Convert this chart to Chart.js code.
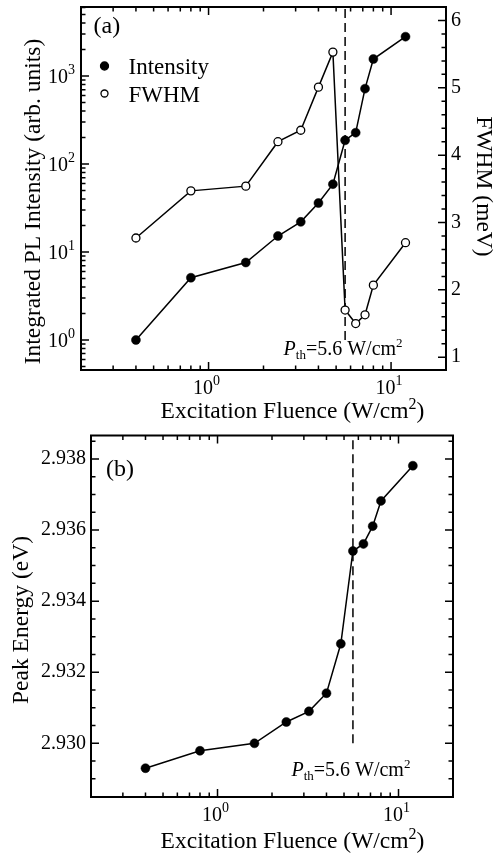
<!DOCTYPE html>
<html lang="en">
<head>
<meta charset="UTF-8">
<title>Excitation fluence dependence</title>
<script src="https://cdn.jsdelivr.net/npm/chart.js"></script>
<style>
  html, body { margin: 0; padding: 0; background: #fff; }
  #wrap { position: relative; width: 496px; height: 855px; }
  canvas { position: absolute; left: 0; }
  #chartA { top: 0; }
  #chartB { top: 428px; }
</style>
</head>
<body>
<div id="wrap">
  <canvas id="chartA" width="496" height="428"></canvas>
  <canvas id="chartB" width="496" height="427"></canvas>
</div>
<script>
// excitation fluence, W/cm^2
const fluence = [0.4, 0.8, 1.6, 2.4, 3.2, 4.0, 4.8, 5.6, 6.4, 7.2, 8.0, 12];
// panel (a)
const intensity = [1.0, 5.1, 7.6, 15.2, 22, 36, 59, 186, 227, 718, 1560, 2800];
const fwhm = [2.77, 3.47, 3.54, 4.20, 4.37, 5.01, 5.53, 1.70, 1.50, 1.63, 2.07, 2.70];
// panel (b)
const peakEnergy = [2.9293, 2.92979, 2.9300, 2.9306, 2.9309, 2.93141, 2.9328, 2.93541, 2.93561, 2.93611, 2.93682, 2.93781];
// lasing threshold
const threshold = 5.6;

// tick labels
const fluenceTicks = [1, 10];
const intensityTicks = [1, 10, 100, 1000];
const fwhmTicks = [1, 2, 3, 4, 5, 6];
const energyTicks = [2.930, 2.932, 2.934, 2.936, 2.938];

const SERIF = '"Liberation Serif", "Times New Roman", serif';

const T = '23.5px ' + SERIF;
const Tsup = '16px ' + SERIF;
const fluenceTitle = [
    {t: 'Excitation Fluence (W/cm', f: T},
    {t: '2', f: Tsup, dy: -9},
    {t: ')', f: T}
];

// 10^n label as text runs
const pow10Runs = v => [
    {t: '10', f: '20px ' + SERIF},
    {t: String(Math.round(Math.log10(v))), f: '14px ' + SERIF, dy: -9}
];

function tickValues(s, spec) {
    const out = [];
    if (spec.log) {
        for (let e = Math.floor(Math.log10(s.min)); e <= Math.ceil(Math.log10(s.max)); e++) {
            for (let m = 1; m <= 9; m++) {
                const v = m * Math.pow(10, e);
                if (v > s.min && v < s.max) out.push([v, m === 1]);
            }
        }
    } else {
        for (let i = Math.ceil(s.min / spec.minor); i * spec.minor < s.max; i++) {
            out.push([i * spec.minor, i % spec.every === 0]);
        }
    }
    return out;
}

// text in runs of different fonts (sub/superscripts); align: 'left' | 'center' | 'right'
function drawRuns(ctx, runs, x, y, align) {
    let w = 0;
    runs.forEach(r => { ctx.font = r.f; w += ctx.measureText(r.t).width; });
    let cx = align === 'center' ? x - w / 2 : align === 'right' ? x - w : x;
    runs.forEach(r => {
        ctx.font = r.f;
        ctx.fillText(r.t, cx, y + (r.dy || 0));
        cx += ctx.measureText(r.t).width;
    });
}

// fixed axis sizes, no label overhang padding
const fixW = w => s => { s.width = w; s.paddingTop = 0; s.paddingBottom = 0; };
const fixH = h => s => { s.height = h; s.paddingLeft = 0; s.paddingRight = 0; };

// frame, inward ticks, log tick labels, dashed threshold line, titles, panel letter, legend, threshold label
const decor = {
    id: 'decor',
    beforeDatasetsDraw(chart, args, o) {
        const {ctx, chartArea: a} = chart;
        const px = chart.scales.x.getPixelForValue(threshold);
        const y0 = chart.scales[o.dash.scale].getPixelForValue(o.dash.from);
        ctx.save();
        ctx.strokeStyle = '#000';
        ctx.lineWidth = 1.5;
        ctx.setLineDash([9, 5]);
        ctx.beginPath();
        ctx.moveTo(px, y0);
        ctx.lineTo(px, a.top);
        ctx.stroke();
        ctx.restore();
    },
    afterDraw(chart, args, o) {
        const {ctx, chartArea: a} = chart;
        ctx.save();
        ctx.strokeStyle = '#000';
        ctx.fillStyle = '#000';
        ctx.lineWidth = 1.5;
        ctx.beginPath();
        o.ticks.forEach(spec => {
            const s = chart.scales[spec.scale];
            tickValues(s, spec).forEach(([v, major]) => {
                const p = s.getPixelForValue(v);
                const len = major ? 8 : 4.5;
                spec.sides.forEach(side => {
                    if (side === 'bottom') { ctx.moveTo(p, a.bottom); ctx.lineTo(p, a.bottom - len); }
                    if (side === 'top') { ctx.moveTo(p, a.top); ctx.lineTo(p, a.top + len); }
                    if (side === 'left') { ctx.moveTo(a.left, p); ctx.lineTo(a.left + len, p); }
                    if (side === 'right') { ctx.moveTo(a.right, p); ctx.lineTo(a.right - len, p); }
                });
            });
        });
        ctx.stroke();
        ctx.lineWidth = 2;
        ctx.strokeRect(a.left, a.top, a.right - a.left, a.bottom - a.top);

        ctx.textBaseline = 'alphabetic';
        ctx.textAlign = 'left';

        // 10^n tick labels of the log axes
        o.logLabels.forEach(ll => {
            const s = chart.scales[ll.scale];
            ll.values.forEach(v => {
                const p = s.getPixelForValue(v);
                if (s.isHorizontal()) drawRuns(ctx, pow10Runs(v), p - 2, a.bottom + 24, 'center');
                else drawRuns(ctx, pow10Runs(v), a.left - 6, p + 7, 'right');
            });
        });

        // axis titles
        o.titles.forEach(tt => {
            ctx.save();
            ctx.translate(tt.x, tt.y);
            ctx.rotate(tt.rot * Math.PI / 180);
            drawRuns(ctx, tt.runs, 0, 0, 'center');
            ctx.restore();
        });

        // panel letter
        ctx.font = '24px ' + SERIF;
        ctx.fillText(o.letter.text, a.left + o.letter.dx, a.top + o.letter.dy);

        // legend
        if (o.legend) {
            chart.data.datasets.forEach((ds, i) => {
                const cy = a.top + o.legend.dy + i * 27.5;
                const cx = a.left + o.legend.dx;
                ctx.beginPath();
                ctx.arc(cx, cy, ds.pointBackgroundColor === '#000' ? 4 : 3.5, 0, Math.PI * 2);
                ctx.fillStyle = ds.pointBackgroundColor;
                ctx.fill();
                ctx.lineWidth = 1.3;
                ctx.stroke();
                ctx.fillStyle = '#000';
                ctx.font = '23px ' + SERIF;
                ctx.fillText(ds.label, cx + 24, cy + 8);
            });
        }

        // threshold label: P_th=5.6 W/cm^2
        const big = '20px ' + SERIF, small = '13px ' + SERIF;
        drawRuns(ctx, [
            {t: 'P', f: 'italic ' + big},
            {t: 'th', f: small, dy: 4},
            {t: '=' + threshold + ' W/cm', f: big},
            {t: '2', f: small, dy: -8}
        ], chart.scales.x.getPixelForValue(threshold) - 2, a.bottom - o.labelUp, 'center');
        ctx.restore();
    }
};

const tickFont = {family: SERIF, size: 20};

function xAxis(height) {
    return {
        type: 'logarithmic',
        min: 0.2,
        max: 20,
        grid: {display: false, drawTicks: false},
        border: {display: false},
        afterFit: fixH(height),
        ticks: {display: false}
    };
}

const lineStyle = {
    showLine: true,
    borderColor: '#000',
    borderWidth: 1.5,
    pointBorderColor: '#000',
    tension: 0
};

new Chart(document.getElementById('chartA'), {
    type: 'scatter',
    data: {
        datasets: [
            Object.assign({
                label: 'Intensity',
                data: fluence.map((x, i) => ({x: x, y: intensity[i]})),
                yAxisID: 'y',
                pointBackgroundColor: '#000',
                pointRadius: 4.5,
                pointBorderWidth: 0.5
            }, lineStyle),
            Object.assign({
                label: 'FWHM',
                data: fluence.map((x, i) => ({x: x, y: fwhm[i]})),
                yAxisID: 'y2',
                pointBackgroundColor: '#fff',
                pointRadius: 4,
                pointBorderWidth: 1.3
            }, lineStyle)
        ]
    },
    options: {
        responsive: false,
        animation: false,
        devicePixelRatio: 1,
        layout: {padding: {top: 7, right: 0, left: 0, bottom: 0}},
        scales: {
            x: xAxis(58),
            y: {
                type: 'logarithmic',
                position: 'left',
                min: 0.456,
                max: 6085,
                grid: {display: false, drawTicks: false},
                border: {display: false},
                afterFit: fixW(81),
                ticks: {display: false}
            },
            y2: {
                type: 'linear',
                position: 'right',
                min: 0.81,
                max: 6.2,
                grid: {display: false, drawTicks: false},
                border: {display: false},
                afterBuildTicks: s => { s.ticks = fwhmTicks.map(v => ({value: v})); },
                afterFit: fixW(50),
                ticks: {font: tickFont, color: '#000', padding: 5}
            }
        },
        plugins: {
            legend: {display: false},
            tooltip: {enabled: false},
            decor: {
                dash: {scale: 'y', from: 1},
                labelUp: 15,
                letter: {text: '(a)', dx: 12.5, dy: 26},
                legend: {dx: 23.5, dy: 59},
                logLabels: [
                    {scale: 'x', values: fluenceTicks},
                    {scale: 'y', values: intensityTicks}
                ],
                titles: [
                    {runs: fluenceTitle, x: 292.5, y: 418, rot: 0},
                    {runs: [{t: 'Integrated PL Intensity (arb. units)', f: T}], x: 40, y: 201.5, rot: -90},
                    {runs: [{t: 'FWHM (meV)', f: T}], x: 477, y: 186.5, rot: 90}
                ],
                ticks: [
                    {scale: 'x', log: true, sides: ['bottom', 'top']},
                    {scale: 'y', log: true, sides: ['left']},
                    {scale: 'y2', minor: 0.2, every: 5, sides: ['right']}
                ]
            }
        }
    },
    plugins: [decor]
});

new Chart(document.getElementById('chartB'), {
    type: 'scatter',
    data: {
        datasets: [
            Object.assign({
                label: 'Peak Energy',
                data: fluence.map((x, i) => ({x: x, y: peakEnergy[i]})),
                yAxisID: 'y',
                pointBackgroundColor: '#000',
                pointRadius: 4.5,
                pointBorderWidth: 0.5
            }, lineStyle)
        ]
    },
    options: {
        responsive: false,
        animation: false,
        devicePixelRatio: 1,
        layout: {padding: {top: 7.5, right: 43, left: 0, bottom: 0}},
        scales: {
            x: xAxis(58),
            y: {
                type: 'linear',
                position: 'left',
                min: 2.92849,
                max: 2.93866,
                grid: {display: false, drawTicks: false},
                border: {display: false},
                afterBuildTicks: s => { s.ticks = energyTicks.map(v => ({value: v})); },
                afterFit: fixW(91),
                ticks: {callback: v => v.toFixed(3), font: tickFont, color: '#000', padding: 5}
            }
        },
        plugins: {
            legend: {display: false},
            tooltip: {enabled: false},
            decor: {
                dash: {scale: 'y', from: 2.930},
                labelUp: 21,
                letter: {text: '(b)', dx: 15, dy: 40},
                logLabels: [
                    {scale: 'x', values: fluenceTicks}
                ],
                titles: [
                    {runs: fluenceTitle, x: 292.5, y: 420, rot: 0},
                    {runs: [{t: 'Peak Energy (eV)', f: T}], x: 28, y: 192, rot: -90}
                ],
                ticks: [
                    {scale: 'x', log: true, sides: ['bottom', 'top']},
                    {scale: 'y', minor: 0.0005, every: 4, sides: ['left', 'right']}
                ]
            }
        }
    },
    plugins: [decor]
});
</script>
</body>
</html>
